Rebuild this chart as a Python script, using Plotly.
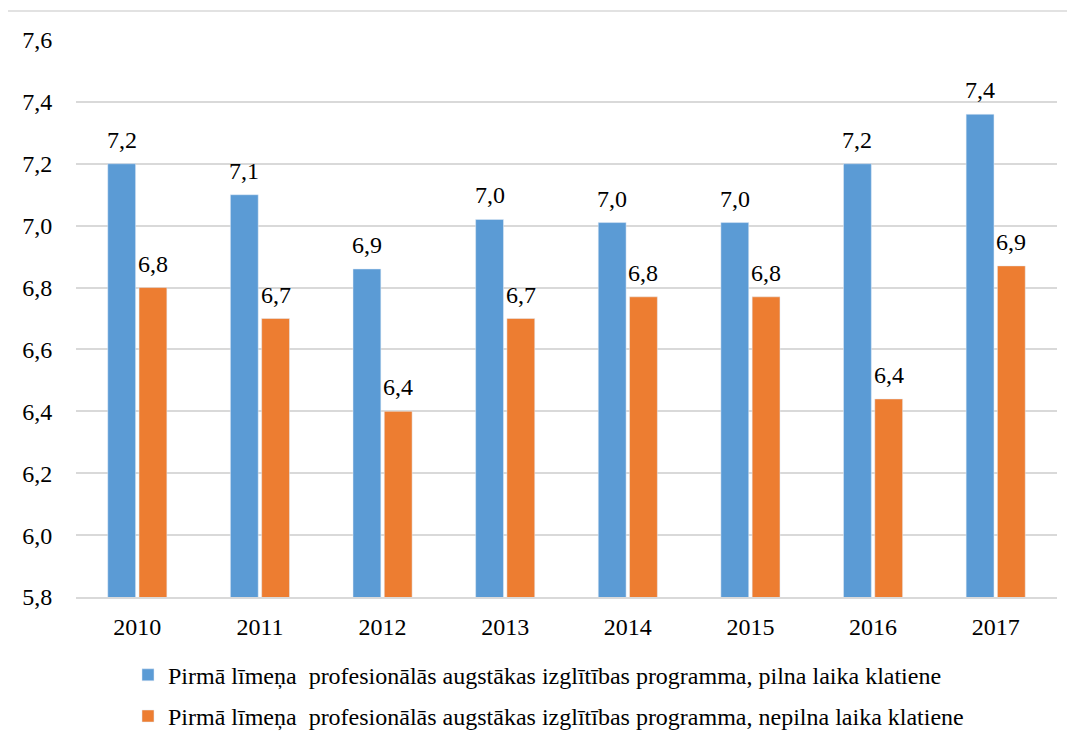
import plotly.graph_objects as go

years = ["2010", "2011", "2012", "2013", "2014", "2015", "2016", "2017"]
full_time = [7.20, 7.10, 6.86, 7.02, 7.01, 7.01, 7.20, 7.36]
part_time = [6.80, 6.70, 6.40, 6.70, 6.77, 6.77, 6.44, 6.87]
name_full = "Pirmā līmeņa  profesionālās augstākas izglītības programma, pilna laika klatiene"
name_part = "Pirmā līmeņa  profesionālās augstākas izglītības programma, nepilna laika klatiene"

FF = "Liberation Serif"
FS = 24
BARGAP = 0.49
PLOT_W = 981  # plot area width in px
CAT_W = PLOT_W / len(years)
SLOT = CAT_W * (1 - BARGAP) / 2

fig = go.Figure()
fig.add_trace(go.Bar(x=years, y=full_time, name=name_full, marker_color="#5B9BD5", legendgroup="a"))
fig.add_trace(go.Bar(x=years, y=part_time, name=name_part, marker_color="#ED7D31", legendgroup="b"))

annotations = []
for series, shift in ((full_time, -SLOT / 2), (part_time, SLOT / 2)):
    for idx, v in enumerate(series):
        # on a category axis, a numeric x is the category index
        annotations.append(dict(x=idx, y=v, xref="x", yref="y", text=f"{v:.1f}".replace(".", ","),
                                showarrow=False, yanchor="bottom", xshift=shift, yshift=9,
                                font=dict(family=FF, size=FS, color="#000000")))

fig.update_layout(
    width=1075, height=745,
    margin=dict(l=68, r=26, t=32, b=156),
    paper_bgcolor="white", plot_bgcolor="white",
    separators=", ",
    font=dict(family=FF, size=FS, color="#000000"),
    barmode="group", bargap=BARGAP, bargroupgap=0.11,
    showlegend=True,
    legend=dict(orientation="v", x=0.053, xanchor="left", y=-0.1, yanchor="top",
                font=dict(family=FF, size=FS, color="#000000"), tracegroupgap=7, itemwidth=30),
    annotations=annotations,
    shapes=[dict(type="rect", xref="paper", yref="paper",
                 x0=-0.0703, x1=1.2, y0=-0.4, y1=1.052,
                 line=dict(color="#D9D9D9", width=1.5), fillcolor="rgba(0,0,0,0)", layer="below")],
)
fig.update_yaxes(range=[5.8, 7.6], dtick=0.2, tick0=5.8, tickformat=".1f",
                 tickfont=dict(family=FF, size=FS, color="#000000"),
                 showgrid=True, gridcolor="#D9D9D9", gridwidth=1.5,
                 zeroline=False, showline=False,
                 ticks="outside", ticklen=18, tickcolor="rgba(0,0,0,0)")
fig.update_xaxes(type="category", range=[-0.5, len(years) - 0.5],
                 showline=True, linecolor="#D9D9D9", linewidth=1.5,
                 tickfont=dict(family=FF, size=FS, color="#000000"),
                 ticks="outside", ticklen=7, tickcolor="rgba(0,0,0,0)")

fig.write_html("out.html")
